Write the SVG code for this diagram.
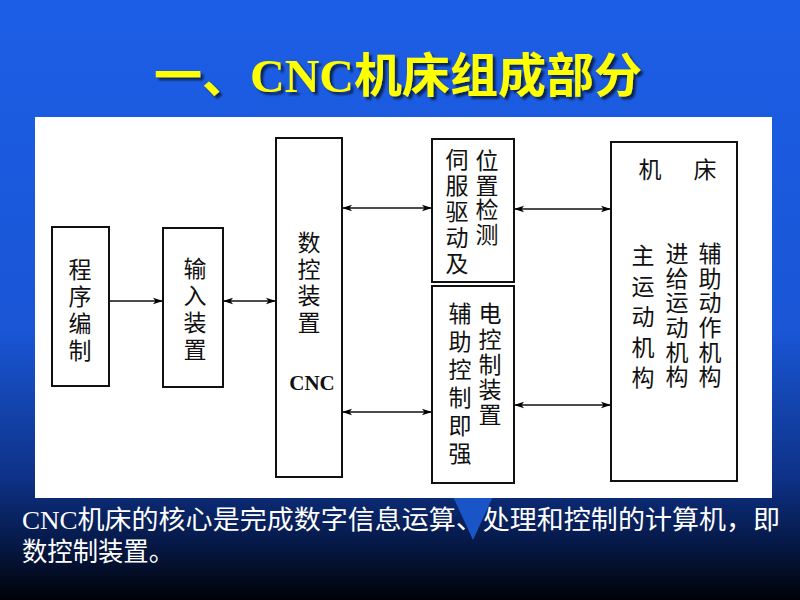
<svg xmlns="http://www.w3.org/2000/svg" width="800" height="600" viewBox="0 0 800 600">
<defs>
<linearGradient id="bg" x1="0" y1="0" x2="0" y2="1">
<stop offset="0" stop-color="#1c5ee6"/>
<stop offset="0.55" stop-color="#1a56d6"/>
<stop offset="0.8" stop-color="#0e3186"/>
<stop offset="0.9" stop-color="#061a4a"/>
<stop offset="1" stop-color="#000208"/>
</linearGradient>
<filter id="sh" x="-5%" y="-20%" width="110%" height="150%">
<feDropShadow dx="3" dy="3" stdDeviation="0.8" flood-color="#000" flood-opacity="0.6"/>
</filter>
<marker id="ah" viewBox="0 0 10 8" refX="10" refY="4" markerWidth="10" markerHeight="8" markerUnits="userSpaceOnUse" orient="auto-start-reverse">
<path d="M0,0.8 L10,4 L0,7.2 L2.5,4 Z" fill="#000"/>
</marker>
</defs>
<style>
.box{fill:none;stroke:#111;stroke-width:2}
.v{font-family:"Noto Sans CJK SC","Liberation Serif",sans-serif;font-size:23px;fill:#111;writing-mode:vertical-rl;text-anchor:start}
.cj{font-family:"Noto Sans CJK SC","Liberation Serif",sans-serif;font-size:23px;fill:#111;text-anchor:middle}
.ln{stroke:#111;stroke-width:1.6;fill:none}
.title{font-family:"Liberation Serif","Noto Sans CJK SC",serif;font-size:47px;font-weight:bold;fill:#ffff00}
.body{font-family:"Liberation Serif","Noto Sans CJK SC",serif;font-size:26px;fill:#fff}
</style>
<rect width="800" height="600" fill="url(#bg)"/>
<polygon points="450,490 496,490 473,540" fill="#1a55c8"/>
<g id="title">
<text class="title" x="398" y="92" text-anchor="middle" filter="url(#sh)" textLength="488" lengthAdjust="spacingAndGlyphs">一、CNC机床组成部分</text>
</g>
<rect x="35" y="117" width="737" height="381" fill="#fff"/>
<g id="connectors">
<line class="ln" x1="109" y1="301" x2="163" y2="301" marker-end="url(#ah)"/>
<line class="ln" x1="223" y1="301" x2="276" y2="301" marker-start="url(#ah)" marker-end="url(#ah)"/>
<line class="ln" x1="342" y1="208" x2="432" y2="208" marker-start="url(#ah)" marker-end="url(#ah)"/>
<line class="ln" x1="342" y1="412" x2="432" y2="412" marker-start="url(#ah)" marker-end="url(#ah)"/>
<line class="ln" x1="514" y1="209" x2="611" y2="209" marker-start="url(#ah)" marker-end="url(#ah)"/>
<line class="ln" x1="514" y1="405" x2="611" y2="405" marker-start="url(#ah)" marker-end="url(#ah)"/>
</g>
<g id="prog">
<rect class="box" x="52" y="227" width="57" height="159"/>
<text class="v" x="80" y="258" letter-spacing="4">程序编制</text>
</g>
<g id="input">
<rect class="box" x="163" y="228" width="60" height="159"/>
<text class="v" x="195" y="257" letter-spacing="4">输入装置</text>
</g>
<g id="cnc">
<rect class="box" x="276" y="138" width="66" height="339"/>
<text class="v" x="309" y="231" letter-spacing="3.5">数控装置</text>
<text x="312" y="390" text-anchor="middle" font-family="Liberation Serif, serif" font-size="21" font-weight="bold" fill="#111">CNC</text>
</g>
<g id="servo">
<rect class="box" x="432" y="139" width="82" height="143"/>
<text class="v" x="487" y="149" letter-spacing="1.5">位置检测</text>
<text class="v" x="457" y="148" letter-spacing="3">伺服驱动及</text>
</g>
<g id="aux">
<rect class="box" x="432" y="286" width="82" height="197"/>
<text class="v" x="490" y="302" letter-spacing="2.3">电控制装置</text>
<text class="v" x="460" y="302" letter-spacing="5">辅助控制即强</text>
</g>
<g id="machine">
<rect class="box" x="611" y="142" width="126" height="339"/>
<text class="cj" x="650" y="178">机</text>
<text class="cj" x="705" y="178">床</text>
<text class="v" x="643" y="244" letter-spacing="7.5">主运动机构</text>
<text class="v" x="677" y="242" letter-spacing="1.6">进给运动机构</text>
<text class="v" x="710" y="242" letter-spacing="1.6">辅助动作机构</text>
</g>
<g id="caption">
<text class="body" x="22" y="529" textLength="758" lengthAdjust="spacingAndGlyphs">CNC机床的核心是完成数字信息运算、处理和控制的计算机，即</text>
<text class="body" x="22" y="561" textLength="152" lengthAdjust="spacingAndGlyphs">数控制装置。</text>
</g>
</svg>
